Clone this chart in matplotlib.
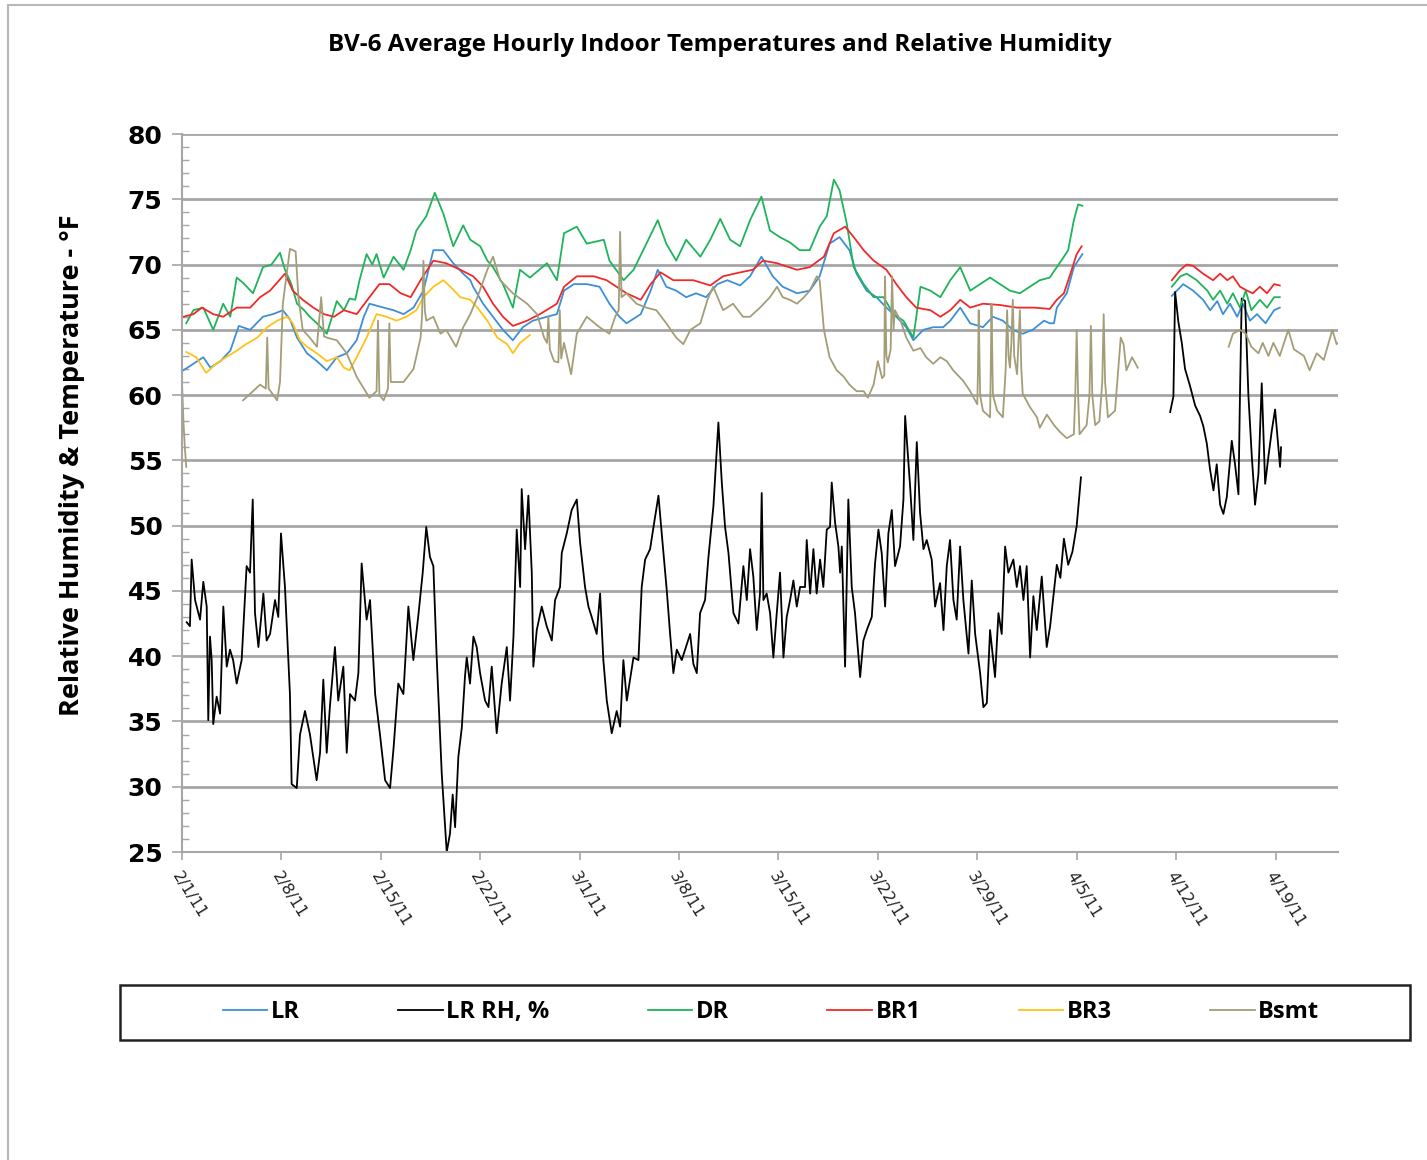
import numpy as np
import pandas as pd
import matplotlib
matplotlib.use("Agg")
import matplotlib.pyplot as plt
from matplotlib.ticker import MultipleLocator
from matplotlib.lines import Line2D
from matplotlib.patches import Rectangle

# ---------------- data (day offset from 2/1/11, value); None = gap ----------------
series_names = ["LR", "LR RH, %", "DR", "BR1", "BR3", "Bsmt"]

lr = [(0.1, 61.9), (0.8, 62.4), (1.5, 62.9), (2.0, 62.1), (2.7, 62.6), (3.4, 63.4), (4.0, 65.3),
      (4.8, 65.0), (5.7, 66.0), (6.4, 66.2), (7.1, 66.5), (7.6, 65.8), (8.1, 64.4), (8.8, 63.2),
      (9.5, 62.6), (10.2, 61.9), (10.9, 62.9), (11.6, 63.2), (12.3, 64.2), (12.8, 66.0), (13.2, 67.0),
      (14.2, 66.7), (14.9, 66.5), (15.6, 66.2), (16.3, 66.7), (17.0, 68.0), (17.7, 71.1), (18.4, 71.1),
      (19.1, 70.1), (19.8, 69.3), (20.3, 68.8), (20.5, 68.3), (21.2, 67.0), (21.9, 66.0), (22.6, 65.0),
      (23.3, 64.2), (24.0, 65.2), (24.7, 65.7), (25.7, 66.0), (26.4, 66.2), (26.9, 68.0), (27.6, 68.5),
      (28.5, 68.5), (29.4, 68.3), (30.1, 67.0), (30.8, 66.0), (31.3, 65.5), (32.3, 66.2), (33.0, 68.0),
      (33.5, 69.6), (34.1, 68.3), (34.8, 68.0), (35.5, 67.5), (36.2, 67.8), (36.9, 67.5), (37.7, 68.5),
      (38.4, 68.8), (39.3, 68.4), (40.0, 69.1), (40.8, 70.6), (41.6, 69.1), (42.3, 68.3), (43.3, 67.8),
      (44.2, 68.0), (44.9, 69.1), (45.6, 71.6), (46.3, 72.1), (47.0, 71.1), (47.5, 69.3), (48.2, 68.0),
      (48.9, 67.5), (49.6, 66.7), (50.3, 66.0), (51.0, 65.2), (51.5, 64.2), (52.2, 65.0), (52.9, 65.2),
      (53.6, 65.2), (54.1, 65.7), (54.8, 66.7), (55.5, 65.5), (56.4, 65.2), (57.1, 66.0), (57.8, 65.7),
      (58.5, 65.0), (59.2, 64.7), (59.9, 65.0), (60.7, 65.7), (61.1, 65.5), (61.4, 65.5), (61.6, 66.7),
      (62.3, 67.8), (62.8, 69.8), (63.4, 70.8), (66.0, None),
      (69.7, 67.6), (70.5, 68.5), (71.2, 68.0), (71.9, 67.3), (72.4, 66.5), (72.9, 67.2), (73.3, 66.2),
      (73.8, 67.0), (74.3, 66.0), (74.7, 67.0), (75.2, 65.7), (75.7, 66.2), (76.3, 65.5), (76.9, 66.5),
      (77.3, 66.7)]

lr_rh = [(0.33, 42.6), (0.56, 42.3), (0.68, 47.4), (0.92, 44.3), (1.15, 43.3), (1.27, 42.8), (1.5, 45.7),
         (1.74, 43.8), (1.85, 35.1), (1.97, 41.5), (2.09, 39.7), (2.2, 34.8), (2.44, 36.9), (2.68, 35.6),
         (2.91, 43.8), (3.15, 39.2), (3.38, 40.5), (3.6, 39.7), (3.85, 37.9), (4.2, 39.7), (4.55, 46.9),
         (4.79, 46.4), (4.98, 52.0), (5.14, 43.3), (5.38, 40.7), (5.73, 44.8), (5.96, 41.2), (6.2, 41.7),
         (6.55, 44.3), (6.78, 43.0), (6.97, 49.4), (7.25, 45.3), (7.6, 37.1), (7.72, 30.2), (8.08, 29.9),
         (8.31, 34.0), (8.66, 35.8), (9.01, 34.0), (9.48, 30.5), (9.72, 32.6), (9.95, 38.2), (10.19, 32.6),
         (10.42, 36.2), (10.77, 40.7), (11.0, 36.6), (11.36, 39.2), (11.6, 32.6), (11.83, 37.1),
         (12.18, 36.6), (12.42, 38.7), (12.65, 47.1), (13.0, 42.8), (13.24, 44.3), (13.6, 37.1),
         (13.94, 34.0), (14.3, 30.5), (14.65, 29.9), (14.9, 33.0), (15.23, 37.9), (15.59, 37.1),
         (15.94, 43.8), (16.29, 39.7), (16.64, 43.1), (16.95, 46.4), (17.2, 49.9), (17.46, 47.6),
         (17.7, 46.9), (17.93, 40.0), (18.29, 31.0), (18.64, 25.0), (18.87, 26.4), (19.06, 29.4),
         (19.23, 26.9), (19.46, 32.3), (19.7, 34.5), (19.93, 38.5), (20.05, 39.9), (20.28, 37.9),
         (20.52, 41.5), (20.75, 40.7), (20.99, 38.7), (21.34, 36.6), (21.58, 36.1), (21.81, 39.2),
         (22.16, 34.1), (22.51, 37.9), (22.87, 40.7), (23.1, 36.6), (23.34, 41.5), (23.57, 49.7),
         (23.81, 45.3), (23.92, 52.8), (24.16, 48.2), (24.39, 52.3), (24.63, 46.4), (24.74, 39.2),
         (24.98, 42.0), (25.33, 43.8), (25.68, 42.3), (26.04, 41.2), (26.27, 44.3), (26.62, 45.3),
         (26.74, 47.9), (27.09, 49.4), (27.44, 51.2), (27.8, 52.0), (28.03, 48.7), (28.38, 45.3),
         (28.62, 43.8), (28.85, 43.0), (29.2, 41.7), (29.44, 44.8), (29.67, 39.7), (29.91, 36.6),
         (30.26, 34.1), (30.61, 35.8), (30.85, 34.6), (31.08, 39.7), (31.32, 36.6), (31.79, 39.9),
         (32.14, 39.7), (32.37, 45.3), (32.61, 47.4), (32.96, 48.2), (33.2, 49.9), (33.55, 52.3),
         (33.78, 49.4), (34.13, 45.1), (34.37, 41.7), (34.6, 38.7), (34.84, 40.5), (35.19, 39.7),
         (35.78, 41.7), (36.01, 39.4), (36.25, 38.7), (36.48, 43.3), (36.83, 44.3), (37.07, 47.6),
         (37.42, 51.5), (37.77, 57.9), (38.01, 53.3), (38.24, 49.9), (38.48, 47.9), (38.83, 43.3),
         (39.18, 42.5), (39.53, 46.9), (39.77, 44.3), (40.0, 48.2), (40.23, 46.1), (40.47, 42.0),
         (40.7, 44.8), (40.82, 52.5), (40.94, 44.3), (41.17, 44.8), (41.41, 43.3), (41.64, 39.9),
         (41.88, 43.3), (42.11, 46.4), (42.35, 39.9), (42.58, 43.0), (42.82, 44.3), (43.05, 45.8),
         (43.29, 43.8), (43.52, 45.3), (43.87, 45.3), (43.99, 48.9), (44.23, 44.8), (44.46, 48.2),
         (44.69, 44.8), (44.93, 47.4), (45.16, 45.3), (45.4, 49.7), (45.63, 49.9), (45.75, 53.3),
         (45.99, 50.2), (46.22, 48.4), (46.34, 46.4), (46.46, 48.4), (46.69, 39.2), (46.92, 52.0),
         (47.16, 45.3), (47.39, 43.3), (47.75, 38.4), (47.98, 41.2), (48.22, 42.0), (48.57, 43.0),
         (48.8, 47.1), (49.04, 49.7), (49.27, 47.9), (49.51, 43.8), (49.74, 49.4), (49.98, 51.2),
         (50.21, 46.9), (50.56, 48.4), (50.8, 52.0), (50.92, 58.4), (51.27, 53.0), (51.5, 48.9),
         (51.74, 56.4), (51.97, 51.0), (52.21, 48.2), (52.44, 48.9), (52.79, 47.4), (53.03, 43.8),
         (53.38, 45.6), (53.62, 42.0), (53.85, 46.9), (54.08, 48.9), (54.32, 44.3), (54.55, 42.8),
         (54.79, 48.4), (55.02, 44.3), (55.38, 40.2), (55.61, 45.8), (55.85, 41.7), (56.2, 38.7),
         (56.43, 36.1), (56.67, 36.4), (56.9, 42.0), (57.25, 38.4), (57.49, 43.3), (57.72, 41.7),
         (57.96, 48.4), (58.19, 46.4), (58.54, 47.4), (58.78, 45.3), (59.01, 46.9), (59.25, 44.3),
         (59.48, 46.9), (59.72, 39.9), (59.95, 44.6), (60.19, 42.0), (60.54, 46.1), (60.89, 40.7),
         (61.13, 42.3), (61.4, 45.0), (61.6, 47.0), (61.85, 46.0), (62.1, 49.0), (62.4, 47.0),
         (62.7, 48.0), (63.0, 50.0), (63.3, 53.7), (66.0, None),
         (69.58, 58.7), (69.81, 59.9), (69.93, 67.9), (70.16, 65.6), (70.4, 64.0), (70.63, 62.0),
         (70.98, 60.7), (71.34, 59.2), (71.69, 58.4), (71.92, 57.6), (72.16, 56.3), (72.39, 54.3),
         (72.63, 52.7), (72.86, 54.7), (73.1, 51.6), (73.33, 50.9), (73.57, 52.2), (73.92, 56.5),
         (74.15, 54.7), (74.39, 52.4), (74.5, 60.2), (74.62, 67.4), (74.86, 67.2), (75.09, 60.0),
         (75.33, 55.3), (75.56, 51.6), (75.8, 54.0), (76.03, 60.9), (76.27, 53.2), (76.5, 55.3),
         (76.74, 57.3), (76.97, 58.9), (77.2, 56.0), (77.32, 54.5), (77.39, 56.0)]

dr = [(0.3, 65.5), (0.8, 66.5), (1.5, 66.7), (2.2, 65.0), (2.9, 67.0), (3.4, 66.0), (3.85, 69.0),
      (4.3, 68.6), (5.0, 67.8), (5.7, 69.8), (6.3, 70.0), (6.9, 70.9), (7.25, 69.6), (7.7, 68.5),
      (8.1, 67.0), (8.6, 66.5), (9.0, 66.0), (9.5, 65.5), (10.2, 64.7), (10.9, 67.2), (11.4, 66.5),
      (11.8, 67.4), (12.2, 67.3), (12.5, 68.8), (13.0, 70.8), (13.4, 70.0), (13.7, 70.8), (14.2, 69.0),
      (14.9, 70.6), (15.6, 69.6), (16.1, 71.1), (16.5, 72.6), (17.2, 73.7), (17.8, 75.5), (18.4, 73.9),
      (19.1, 71.4), (19.8, 73.0), (20.3, 71.9), (21.0, 71.4), (21.5, 70.3), (21.9, 69.8), (22.6, 68.5),
      (23.3, 66.7), (23.8, 69.6), (24.5, 69.0), (25.7, 70.1), (26.4, 68.8), (26.9, 72.4), (27.8, 72.9),
      (28.5, 71.6), (29.7, 71.9), (30.1, 70.3), (31.1, 68.8), (31.8, 69.6), (32.7, 71.6), (33.5, 73.4),
      (34.1, 71.6), (34.8, 70.3), (35.5, 71.9), (36.5, 70.6), (37.2, 71.9), (37.9, 73.5), (38.6, 71.9),
      (39.3, 71.4), (40.0, 73.4), (40.8, 75.2), (41.4, 72.6), (42.1, 72.1), (42.8, 71.7), (43.5, 71.1),
      (44.2, 71.1), (44.9, 72.9), (45.4, 73.7), (45.9, 76.5), (46.3, 75.7), (46.8, 73.2), (47.3, 69.8),
      (48.0, 68.5), (48.7, 67.5), (49.4, 67.5), (50.1, 66.2), (50.8, 65.7), (51.5, 64.4), (52.0, 68.3),
      (52.7, 68.0), (53.4, 67.5), (54.1, 68.8), (54.8, 69.8), (55.5, 68.0), (56.2, 68.5), (56.9, 69.0),
      (57.6, 68.5), (58.3, 68.0), (59.0, 67.8), (59.7, 68.3), (60.4, 68.8), (61.1, 69.0), (61.6, 69.8),
      (62.1, 70.6), (62.4, 71.1), (62.8, 73.4), (63.1, 74.6), (63.4, 74.5), (66.0, None),
      (69.7, 68.3), (70.3, 69.1), (70.75, 69.3), (71.45, 68.8), (72.2, 68.0), (72.6, 67.3), (73.1, 68.0),
      (73.6, 67.0), (74.0, 67.8), (74.5, 66.7), (74.9, 68.0), (75.3, 66.5), (75.9, 67.3), (76.4, 66.7),
      (76.9, 67.5), (77.3, 67.5)]

br1 = [(0.1, 66.0), (0.8, 66.2), (1.4, 66.7), (2.2, 66.2), (2.9, 66.0), (3.85, 66.7), (4.8, 66.7),
       (5.5, 67.5), (6.2, 68.0), (7.25, 69.3), (7.8, 68.0), (8.5, 67.3), (9.25, 66.7), (10.0, 66.2),
       (10.7, 66.0), (11.4, 66.5), (12.3, 66.2), (13.2, 67.5), (13.9, 68.5), (14.6, 68.5), (15.4, 67.8),
       (16.1, 67.5), (16.8, 68.8), (17.7, 70.3), (18.6, 70.1), (19.6, 69.6), (20.5, 69.1), (21.2, 68.3),
       (21.9, 67.0), (22.6, 66.0), (23.3, 65.3), (24.3, 65.7), (25.2, 66.2), (26.4, 67.0), (26.9, 68.3),
       (27.8, 69.1), (29.0, 69.1), (29.9, 68.8), (30.6, 68.3), (31.3, 67.8), (32.3, 67.3), (33.0, 68.5),
       (33.7, 69.4), (34.6, 68.8), (36.0, 68.8), (37.2, 68.4), (38.1, 69.1), (39.3, 69.4), (40.2, 69.6),
       (40.9, 70.3), (41.9, 70.1), (43.3, 69.6), (44.2, 69.8), (45.2, 70.6), (45.9, 72.4), (46.7, 72.9),
       (47.3, 72.1), (48.0, 71.1), (48.7, 70.3), (49.6, 69.6), (50.3, 68.5), (51.0, 67.5), (51.7, 66.7),
       (52.7, 66.5), (53.4, 66.0), (54.1, 66.5), (54.8, 67.3), (55.5, 66.7), (56.4, 67.0), (57.6, 66.9),
       (58.8, 66.7), (60.0, 66.7), (61.1, 66.6), (61.6, 67.3), (62.1, 67.8), (62.5, 69.1), (63.0, 70.8),
       (63.35, 71.4), (66.0, None),
       (69.7, 68.8), (70.3, 69.6), (70.75, 70.0), (71.2, 69.9), (71.9, 69.3), (72.6, 68.8), (73.1, 69.3),
       (73.6, 68.8), (74.0, 69.1), (74.5, 68.3), (75.0, 68.0), (75.4, 67.8), (75.9, 68.3), (76.4, 67.8),
       (76.9, 68.5), (77.3, 68.4)]

br3 = [(0.3, 63.3), (1.0, 62.9), (1.7, 61.7), (2.4, 62.4), (3.1, 62.9), (3.85, 63.4), (4.5, 63.9),
       (5.3, 64.4), (6.0, 65.2), (6.7, 65.7), (7.4, 66.0), (7.8, 65.5), (8.3, 64.2), (8.8, 63.7),
       (9.5, 63.2), (10.2, 62.6), (10.9, 62.9), (11.4, 62.1), (11.8, 61.9), (12.3, 62.9), (13.0, 64.4),
       (13.7, 66.2), (14.4, 66.0), (15.1, 65.7), (15.8, 66.0), (16.5, 66.5), (17.0, 67.5), (17.7, 68.3),
       (18.4, 68.8), (18.9, 68.3), (19.6, 67.5), (20.3, 67.3), (20.8, 66.7), (21.5, 65.7), (22.2, 64.4),
       (22.9, 63.9), (23.3, 63.2), (23.8, 64.0), (24.5, 64.6)]

bsmt = [(0.0, 61.0), (0.1, 58.0), (0.2, 56.0), (0.3, 54.5), (2.0, None),
        (4.3, 59.6), (5.0, 60.3), (5.5, 60.8), (5.9, 60.5), (6.0, 64.4), (6.1, 60.5), (6.7, 59.6),
        (6.9, 61.0), (7.1, 67.0), (7.6, 71.2), (8.0, 71.0), (8.2, 67.5), (8.5, 65.0), (9.0, 64.4),
        (9.5, 63.7), (9.8, 67.5), (10.0, 64.5), (10.2, 64.4), (10.9, 64.2), (11.6, 63.2), (12.3, 61.4),
        (13.2, 59.8), (13.7, 60.3), (13.8, 65.7), (13.9, 60.0), (14.2, 59.6), (14.5, 60.5), (14.6, 65.5),
        (14.7, 61.0), (15.1, 61.0), (15.6, 61.0), (16.3, 62.0), (16.8, 64.4), (16.9, 66.0), (17.0, 70.3),
        (17.1, 66.5), (17.2, 65.7), (17.7, 66.0), (18.2, 64.7), (18.6, 65.0), (19.3, 63.7), (19.8, 65.2),
        (20.3, 66.2), (20.8, 67.5), (21.5, 69.6), (21.9, 70.6), (22.4, 68.8), (23.3, 67.8), (24.3, 67.0),
        (25.0, 66.2), (25.5, 64.4), (25.7, 64.0), (25.8, 66.0), (25.9, 63.5), (26.2, 62.6), (26.5, 62.5),
        (26.6, 66.5), (26.7, 62.8), (26.9, 64.0), (27.4, 61.6), (27.8, 64.7), (28.5, 66.0), (29.4, 65.2),
        (30.1, 64.7), (30.5, 66.0), (30.75, 66.5), (30.85, 72.5), (30.95, 67.5), (31.3, 67.8), (32.0, 67.0),
        (32.7, 66.7), (33.4, 66.5), (34.1, 65.5), (34.8, 64.4), (35.3, 63.9), (35.8, 65.0), (36.5, 65.5),
        (37.0, 67.3), (37.4, 68.3), (38.1, 66.5), (38.8, 67.0), (39.5, 66.0), (40.0, 66.0), (40.7, 66.7),
        (41.4, 67.5), (41.9, 68.3), (42.3, 67.5), (42.8, 67.3), (43.3, 67.0), (43.8, 67.5), (44.2, 68.0),
        (44.7, 69.1), (44.9, 68.8), (45.2, 65.0), (45.6, 62.9), (46.1, 61.9), (46.6, 61.4), (47.0, 60.8),
        (47.5, 60.3), (48.0, 60.3), (48.3, 59.8), (48.7, 60.8), (49.0, 62.6), (49.3, 61.3), (49.45, 61.5),
        (49.5, 69.1), (49.6, 63.0), (49.7, 62.5), (49.9, 63.5), (50.0, 69.1), (50.1, 65.0), (50.2, 66.5),
        (50.6, 65.7), (51.0, 64.4), (51.5, 63.4), (52.0, 63.6), (52.4, 62.9), (52.9, 62.4), (53.4, 62.9),
        (53.85, 62.6), (54.3, 61.9), (55.0, 61.1), (55.5, 60.3), (56.0, 59.3), (56.05, 62.0), (56.1, 66.5),
        (56.2, 60.0), (56.4, 58.8), (56.9, 58.3), (56.95, 62.0), (57.0, 67.0), (57.1, 60.0), (57.4, 58.8),
        (57.8, 58.3), (58.0, 62.0), (58.1, 66.5), (58.2, 63.0), (58.3, 62.1), (58.4, 64.0), (58.5, 67.3),
        (58.6, 63.0), (58.8, 61.6), (58.9, 64.0), (59.0, 66.5), (59.1, 62.0), (59.2, 60.1), (59.7, 59.1),
        (60.2, 58.3), (60.4, 57.5), (60.9, 58.5), (61.4, 57.7), (61.8, 57.2), (62.3, 56.7), (62.8, 57.0),
        (62.9, 60.0), (63.0, 65.0), (63.1, 60.0), (63.2, 57.0), (63.7, 57.7), (63.9, 60.0), (64.0, 65.3),
        (64.1, 60.0), (64.3, 57.7), (64.6, 58.0), (64.8, 61.0), (64.9, 66.2), (65.0, 61.0), (65.2, 58.3),
        (65.7, 58.8), (66.1, 64.4), (66.3, 63.9), (66.5, 61.9), (66.9, 62.9), (67.3, 62.1), (70.0, None),
        (73.7, 63.7), (74.0, 64.7), (74.5, 65.0), (74.9, 64.7), (75.3, 63.7), (75.8, 63.2), (76.1, 64.0),
        (76.5, 63.0), (76.85, 64.0), (77.3, 63.0), (77.9, 65.0), (78.3, 63.5), (79.0, 63.0), (79.4, 61.9),
        (79.9, 63.2), (80.4, 62.7), (81.0, 65.0), (81.3, 63.9), (81.5, 64.1)]

tick_labels = ["2/1/11", "2/8/11", "2/15/11", "2/22/11", "3/1/11", "3/8/11",
               "3/15/11", "3/22/11", "3/29/11", "4/5/11", "4/12/11", "4/19/11"]

colors = ["#3d8fd6", "#000000", "#1fb45a", "#f02a2a", "#ffc21a", "#a39e78"]

BASE = pd.Timestamp("2011-02-01")


def unpack(pairs):
    d = np.array([p[0] for p in pairs], float)
    v = np.array([np.nan if p[1] is None else p[1] for p in pairs], float)
    return BASE + pd.to_timedelta(d, unit="D"), v


W, H = 1427, 1160
fig = plt.figure(figsize=(W / 100, H / 100), dpi=100)
fig.patch.set_facecolor("white")

# outer chart border
fig.add_artist(Line2D([8 / W, 8 / W], [0, 1 - 5 / H], transform=fig.transFigure, color="#b8b8b8", lw=1.5))
fig.add_artist(Line2D([8 / W, 1], [1 - 5 / H, 1 - 5 / H], transform=fig.transFigure, color="#b8b8b8", lw=1.5))

ax = fig.add_axes([182 / W, 1 - 852 / H, (1338 - 182) / W, (852 - 134) / H])

all_series = [lr, lr_rh, dr, br1, br3, bsmt]
handles = []
for name, data, col in zip(series_names, all_series, colors):
    x, y = unpack(data)
    h, = ax.plot(x, y, color=col, lw=1.3, label=name)
    handles.append(h)

ax.set_ylim(25, 80)
ax.set_xlim(BASE, BASE + pd.Timedelta(days=81.4))
ax.yaxis.set_major_locator(MultipleLocator(5))
ax.yaxis.set_minor_locator(MultipleLocator(1))
ax.grid(axis="y", which="major", color="#a6a6a6", lw=2)
ax.set_axisbelow(True)

ticks = [BASE + pd.Timedelta(days=7 * i) for i in range(len(tick_labels))]
ax.set_xticks(ticks)
ax.set_xticklabels(tick_labels, rotation=-58, ha="left", va="top", rotation_mode="anchor",
                   fontsize=11.5, color="#222222")

for s in ["top", "right"]:
    ax.spines[s].set_visible(False)
for s in ["left", "bottom"]:
    ax.spines[s].set_color("#a6a6a6")
    ax.spines[s].set_linewidth(1.5)

ax.tick_params(axis="y", which="major", direction="out", length=7, color="#a6a6a6", width=1.2,
               labelsize=18, pad=7)
ax.tick_params(axis="y", which="minor", direction="in", length=5, color="#a6a6a6", width=1)
ax.tick_params(axis="x", which="major", direction="out", length=6, color="#a6a6a6", width=1.2, pad=6)
for lab in ax.get_yticklabels():
    lab.set_fontweight("bold")
    lab.set_family("DejaVu Sans")

narrow = ["Liberation Sans Narrow", "Open Sans", "DejaVu Sans"]

fig.text(720 / W, 1 - 45 / H, "BV-6 Average Hourly Indoor Temperatures and Relative Humidity",
         ha="center", va="center", fontsize=17.5, fontweight="bold", family=narrow)

fig.text(72 / W, 1 - 465 / H, "Relative Humidity & Temperature - \u00b0F", rotation=90,
         ha="center", va="center", fontsize=19.5, fontweight="bold", family=narrow)

# legend box
fig.add_artist(Rectangle((120 / W, 1 - 1040 / H), (1410 - 120) / W, 55 / H, transform=fig.transFigure,
                         facecolor="white", edgecolor="#222222", lw=1.8))
leg = fig.legend(handles=handles, labels=series_names, loc="center",
                 bbox_to_anchor=(771 / W, 1 - 1012 / H), ncol=6, frameon=False,
                 handlelength=1.9, handletextpad=0.15, columnspacing=4.15, borderaxespad=0,
                 prop={"family": narrow, "weight": "bold", "size": 17})

fig.savefig("out.png", dpi=100)
